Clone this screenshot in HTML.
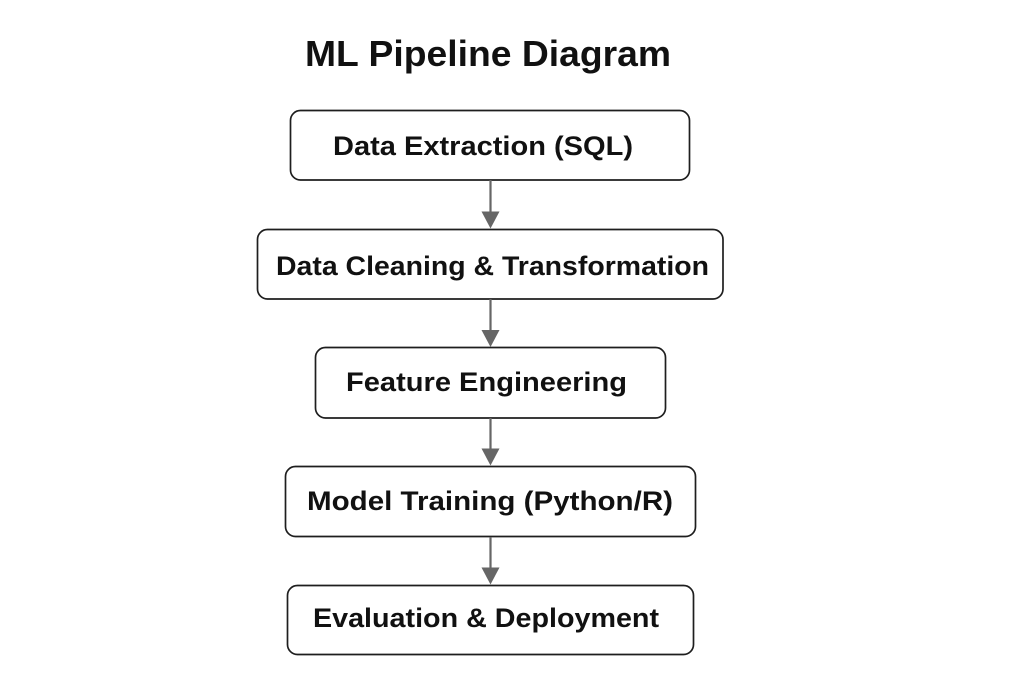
<!DOCTYPE html>
<html>
<head>
<meta charset="utf-8">
<style>
  html, body { margin:0; padding:0; background:#ffffff; }
  body { width:1024px; height:683px; overflow:hidden; }
  svg { display:block; }
  text { font-family: "Liberation Sans", Arial, sans-serif; font-weight:bold; fill:#111111; }
</style>
</head>
<body>
<svg width="1024" height="683" viewBox="0 0 1024 683" xmlns="http://www.w3.org/2000/svg">
  <rect x="0" y="0" width="1024" height="683" fill="#ffffff"/>

  <!-- Title -->
  <text x="305" y="66" font-size="36" textLength="366" lengthAdjust="spacingAndGlyphs">ML Pipeline Diagram</text>

  <!-- Boxes -->
  <g fill="#ffffff" stroke="#1e1e1e" stroke-width="1.7">
    <rect x="290.5" y="110.5" width="399" height="69.5" rx="10" ry="10"/>
    <rect x="257.5" y="229.5" width="465.5" height="69.5" rx="10" ry="10"/>
    <rect x="315.5" y="347.5" width="350" height="70.5" rx="10" ry="10"/>
    <rect x="285.5" y="466.5" width="410" height="70" rx="10" ry="10"/>
    <rect x="287.5" y="585.5" width="406" height="69" rx="10" ry="10"/>
  </g>

  <!-- Box labels -->
  <text x="333" y="155" font-size="26.5" textLength="300" lengthAdjust="spacingAndGlyphs">Data Extraction (SQL)</text>
  <text x="276" y="275" font-size="26.5" textLength="433" lengthAdjust="spacingAndGlyphs">Data Cleaning &amp; Transformation</text>
  <text x="346" y="391" font-size="26.5" textLength="281" lengthAdjust="spacingAndGlyphs">Feature Engineering</text>
  <text x="307" y="510" font-size="26.5" textLength="366" lengthAdjust="spacingAndGlyphs">Model Training (Python/R)</text>
  <text x="313" y="627" font-size="26.5" textLength="346" lengthAdjust="spacingAndGlyphs">Evaluation &amp; Deployment</text>

  <!-- Arrows -->
  <g stroke="#666666" stroke-width="2.2">
    <line x1="490.5" y1="180" x2="490.5" y2="213"/>
    <line x1="490.5" y1="299" x2="490.5" y2="331"/>
    <line x1="490.5" y1="418" x2="490.5" y2="449"/>
    <line x1="490.5" y1="537" x2="490.5" y2="568"/>
  </g>
  <g fill="#666666">
    <polygon points="481.5,211.5 499.5,211.5 490.5,228.5"/>
    <polygon points="481.5,330 499.5,330 490.5,347"/>
    <polygon points="481.5,448.5 499.5,448.5 490.5,465.5"/>
    <polygon points="481.5,567.5 499.5,567.5 490.5,584.5"/>
  </g>
</svg>
</body>
</html>
